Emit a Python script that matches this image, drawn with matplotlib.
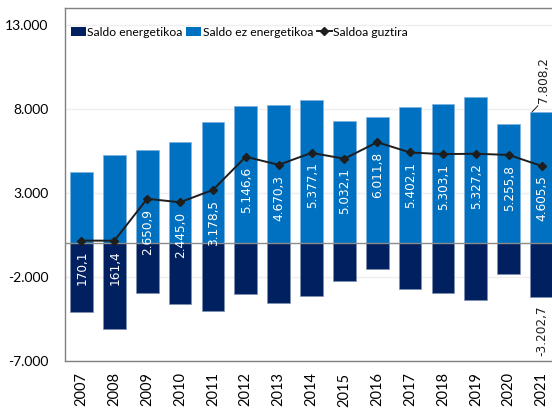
import numpy as np
import matplotlib
matplotlib.use("Agg")
import matplotlib.pyplot as plt
from matplotlib.patches import Patch
from matplotlib.lines import Line2D

## Données

years = ["2007", "2008", "2009", "2010", "2011", "2012", "2013", "2014",
         "2015", "2016", "2017", "2018", "2019", "2020", "2021"]
saldo_energ = [-4100, -5080, -2920, -3600, -4040, -3010, -3540, -3150,
               -2230, -1520, -2720, -2950, -3350, -1830, -3202.7]
saldo_ez_energ = [4270, 5240, 5570, 6045, 7220, 8157, 8210, 8527,
                  7262, 7532, 8122, 8253, 8677, 7086, 7808.2]
saldo_guztira = [170.1, 161.4, 2650.9, 2445.0, 3178.5, 5146.6, 4670.3, 5377.1,
                 5032.1, 6011.8, 5402.1, 5303.1, 5327.2, 5255.8, 4605.5]
y_ticks = [-7000, -2000, 3000, 8000, 13000]
y_ticklabels = ["-7.000", "-2.000", "3.000", "8.000", "13.000"]

col_energ = "#002060"
col_ez = "#0070c0"
col_line = "#1e1e1e"
col_frame = "#808080"


def fmt(v):
    # format européen : 5.146,6
    s = f"{abs(v):,.1f}".replace(",", "X").replace(".", ",").replace("X", ".")
    return ("-" if v < 0 else "") + s


## Graphique

fig = plt.figure(figsize=(5.52, 4.08), dpi=100)
ax = fig.add_axes([65/552, (408-361.3)/408, 493/552, 353.6/408])

x = np.arange(len(years))
ax.bar(x, saldo_ez_energ, width=0.69, color=col_ez, edgecolor="#7fb2e0", linewidth=0.5, zorder=2)
ax.bar(x, saldo_energ, width=0.69, color=col_energ, edgecolor="#7f8fb0", linewidth=0.5, zorder=2)
ax.plot(x, saldo_guztira, color=col_line, linewidth=1.4, marker="D", markersize=3.6, zorder=4)

# étiquettes des totaux (blanches, sous les points)
for i, v in enumerate(saldo_guztira):
    ax.annotate(fmt(v), xy=(i, v), xytext=(0.5, -7), textcoords="offset points",
                rotation=90, ha="center", va="top", color="white",
                fontsize=8.7, family="DejaVu Sans", zorder=5)

# étiquettes de la dernière année
i_last = len(years) - 1
ax.annotate(fmt(saldo_ez_energ[-1]), xy=(i_last - 0.29, saldo_ez_energ[-1]), xytext=(8, 6.5),
            textcoords="offset points", rotation=90, ha="center", va="bottom",
            color="#1e1e1e", fontsize=8.7, family="DejaVu Sans",
            arrowprops=dict(arrowstyle="-", color="#1e1e1e", lw=0.7, shrinkA=0, shrinkB=0, relpos=(0.3, 0)))
ax.annotate(fmt(saldo_energ[-1]), xy=(i_last, saldo_energ[-1]), xytext=(0, -6),
            textcoords="offset points", rotation=90, ha="center", va="top",
            color="#1e1e1e", fontsize=8.7, family="DejaVu Sans")

ax.axhline(0, color="#8c8c8c", linewidth=1.0, zorder=3)
ax.set_ylim(-7000, 14000)
ax.set_xlim(-0.5, len(years) - 0.5)
ax.set_yticks(y_ticks)
ax.set_yticklabels(y_ticklabels, family="Lato", fontsize=10)
ax.set_xticks(x)
ax.set_xticklabels(years, rotation=90, family="Lato", fontsize=10.5)
ax.tick_params(axis="y", length=0, pad=12)
ax.tick_params(axis="x", length=0, pad=8)
ax.yaxis.grid(True, color="#efefef", linewidth=1.0, zorder=0)
ax.set_axisbelow(True)
for s in ax.spines.values():
    s.set_color(col_frame)
    s.set_linewidth(1.0)

handles = [Patch(facecolor=col_energ), Patch(facecolor=col_ez),
           Line2D([], [], color=col_line, linewidth=1.4, marker="D", markersize=3.6)]
labels = ["Saldo energetikoa", "Saldo ez energetikoa", "Saldoa guztira"]
ax.legend(handles, labels, loc="center left", bbox_to_anchor=(0.012, 0.931), ncol=3,
          frameon=False, prop={"family": "Lato", "size": 8.7}, handlelength=1.25,
          handleheight=0.7, handletextpad=0.1, columnspacing=0.3, borderpad=0, borderaxespad=0)

fig.savefig("out.png", dpi=100)
